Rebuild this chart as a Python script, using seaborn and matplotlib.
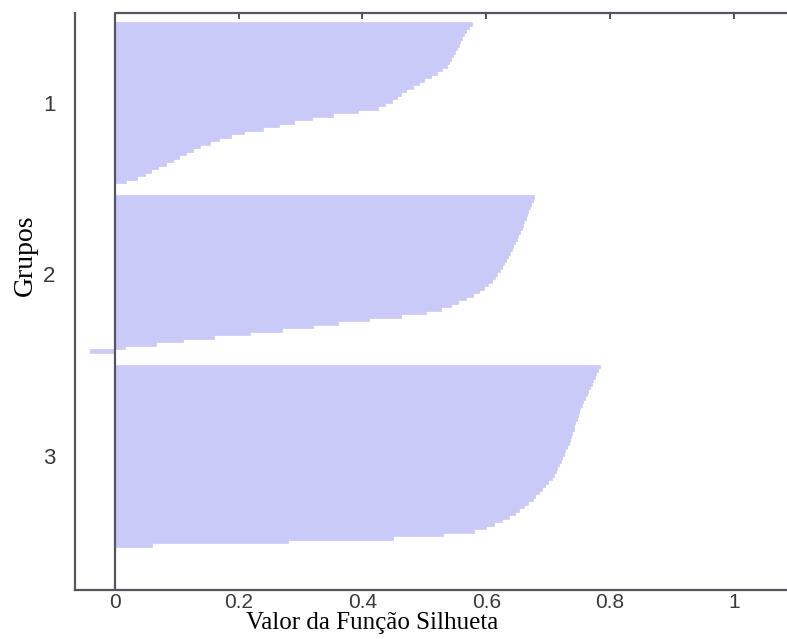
import numpy as np
import pandas as pd
import seaborn as sns
import matplotlib.pyplot as plt

# Silhouette value of every point, per group, in drawing order (top -> bottom)
grupo1 = [0.577, 0.572, 0.567, 0.564, 0.561, 0.558, 0.556, 0.553, 0.550, 0.546,
          0.543, 0.540, 0.536, 0.529, 0.520, 0.510, 0.500, 0.491, 0.481, 0.471,
          0.462, 0.455, 0.448, 0.437, 0.425, 0.392, 0.352, 0.318, 0.290, 0.265,
          0.240, 0.208, 0.188, 0.168, 0.153, 0.138, 0.126, 0.115, 0.104, 0.093,
          0.082, 0.070, 0.059, 0.048, 0.036, 0.018]
grupo2 = [0.677, 0.675, 0.672, 0.670, 0.668, 0.666, 0.664, 0.661, 0.659, 0.657,
          0.655, 0.652, 0.649, 0.646, 0.644, 0.641, 0.639, 0.635, 0.632, 0.629,
          0.626, 0.622, 0.618, 0.614, 0.609, 0.603, 0.596, 0.589, 0.579, 0.568,
          0.555, 0.543, 0.527, 0.502, 0.463, 0.410, 0.360, 0.320, 0.270, 0.218,
          0.160, 0.110, 0.066, 0.017, -0.040]
grupo3 = [0.784, 0.781, 0.778, 0.776, 0.773, 0.771, 0.768, 0.765, 0.762, 0.759,
          0.756, 0.754, 0.752, 0.750, 0.748, 0.746, 0.744, 0.742, 0.741, 0.739,
          0.737, 0.735, 0.733, 0.731, 0.728, 0.726, 0.723, 0.721, 0.718, 0.715,
          0.712, 0.709, 0.706, 0.700, 0.695, 0.690, 0.685, 0.679, 0.675, 0.668,
          0.661, 0.653, 0.646, 0.636, 0.625, 0.612, 0.600, 0.580, 0.530, 0.450,
          0.280, 0.060]
grupo_labels = ["1", "2", "3"]
x_ticks = [0, 0.2, 0.4, 0.6, 0.8, 1]
x_ticklabels = ["0", "0.2", "0.4", "0.6", "0.8", "1"]

# lay the groups out one after another, with a small gap between them
GAP = 3.5
rows = []
centers = []
start = 0.0
for label, vals in zip(grupo_labels, [grupo1, grupo2, grupo3]):
    pos = start + np.arange(len(vals))
    centers.append(pos.mean())
    for p, v in zip(pos, vals):
        rows.append({"grupo": label, "pos": p, "silhueta": v})
    start = pos[-1] + 1 + GAP
df = pd.DataFrame(rows)

sns.set_style("white")
plt.rcParams["font.family"] = ["Liberation Sans", "DejaVu Sans"]

fig = plt.figure(figsize=(7.87, 6.39), dpi=100)
ax = fig.add_axes([0.0953, 0.0767, 0.9047, 0.903])

fill = "#cacaf8"
sns.barplot(data=df, x="silhueta", y="pos", orient="h", native_scale=True,
            width=1, color=fill, saturation=1, edgecolor=fill, linewidth=0.5,
            errorbar=None, ax=ax)

xl, xr = -0.0646, 1.086
y_top = -0.5 - 2.6
y_bot = df["pos"].max() + 0.5 + 12.3
ax.set_xlim(xl, xr)
ax.set_ylim(y_bot, y_top)

ax.set_yticks(centers, grupo_labels)
ax.set_xticks(x_ticks, x_ticklabels)

line_c = "#555560"
ax.axvline(0, color=line_c, lw=1.6, zorder=5)
ax.axhline(y_top, xmin=(0 - xl) / (xr - xl), xmax=1, color=line_c, lw=1.6,
           clip_on=False, zorder=5)

for side in ["top", "right"]:
    ax.spines[side].set_visible(False)
for side in ["left", "bottom"]:
    ax.spines[side].set_color(line_c)
    ax.spines[side].set_linewidth(1.6)

ax.tick_params(direction="in", length=4, width=1.2, color="#333333",
               labelsize=15, labelcolor="#3a3a3a", top=True)
ax.tick_params(axis="x", pad=2)
ax.tick_params(axis="y", pad=14, labelsize=16)

ax.set_xlabel("Valor da Função Silhueta", family="Liberation Serif",
              fontsize=18, color="black")
ax.set_ylabel("Grupos", family="Liberation Serif", fontsize=20,
              color="black")
ax.xaxis.set_label_coords(0.417, -0.039)
ax.yaxis.set_label_coords(-0.052, 0.58)

fig.savefig("out.png", dpi=100)
